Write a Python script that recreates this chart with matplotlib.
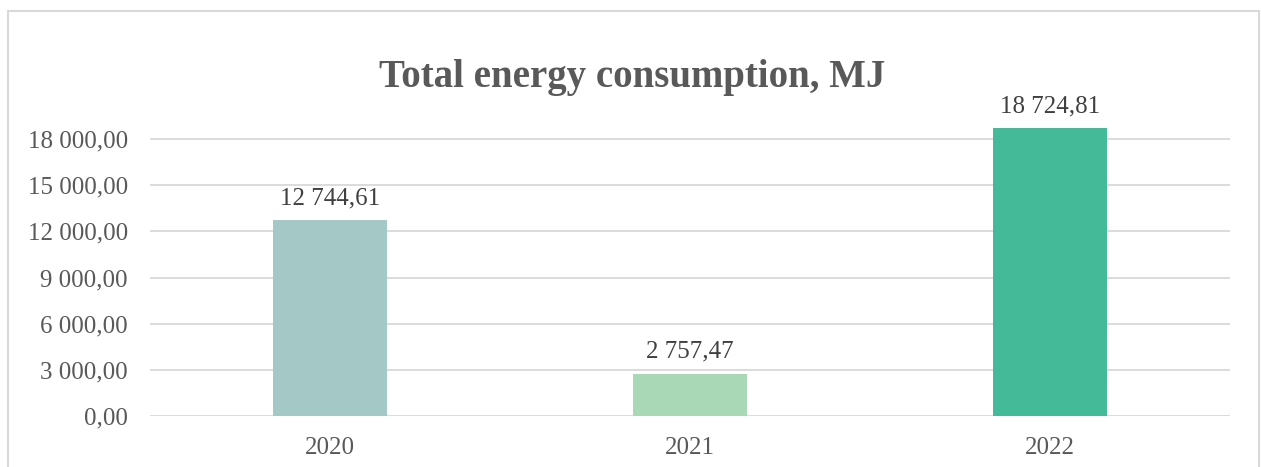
import matplotlib
matplotlib.use("Agg")
import matplotlib.pyplot as plt
from matplotlib.patches import Rectangle

years = ["2020", "2021", "2022"]
energy = [12744.61, 2757.47, 18724.81]
bar_colors = ["#A3C8C5", "#A9D8B6", "#44BA98"]
y_ticks = [0, 3000, 6000, 9000, 12000, 15000, 18000]


def fmt(v):
    # space as thousands separator, comma as decimal mark
    return f"{v:,.2f}".replace(",", " ").replace(".", ",")


plt.rcParams["font.family"] = ["Liberation Serif", "DejaVu Serif"]

fig = plt.figure(figsize=(12.61, 4.67), dpi=100)
W, H = 1261, 467
ax = fig.add_axes([150 / W, 1 - 416 / H, 1080 / W, (416 - 95) / H])

x = range(len(years))
bars = ax.bar(x, energy, width=0.314, color=bar_colors, zorder=3)

for b, v in zip(bars, energy):
    ax.text(b.get_x() + b.get_width() / 2, v + 700, fmt(v),
            ha="center", va="bottom", fontsize=18, color="#404040")

ax.set_xlim(-0.5, 2.5)
ax.set_ylim(0, 20860)
ax.set_yticks(y_ticks)
ax.set_yticklabels([fmt(t) for t in y_ticks])
ax.set_xticks(list(x))
ax.set_xticklabels(years)
ax.tick_params(axis="both", length=0, labelsize=18, colors="#595959")
ax.tick_params(axis="y", pad=16)
ax.tick_params(axis="x", pad=15)
ax.grid(axis="y", color="#D9D9D9", linewidth=1.3, zorder=0)
for s in ax.spines.values():
    s.set_visible(False)

fig.text(632 / W, 1 - 77 / H, "Total energy consumption, MJ", ha="center",
         va="center", fontsize=28, fontweight="bold", color="#595959")

# chart frame
fig.patches.append(Rectangle((8 / W, -0.1), (1259 - 8) / W, 1.1 - 11 / H,
                             transform=fig.transFigure, fill=False,
                             edgecolor="#D9D9D9", linewidth=1.5))

fig.savefig("out.png", dpi=100)
